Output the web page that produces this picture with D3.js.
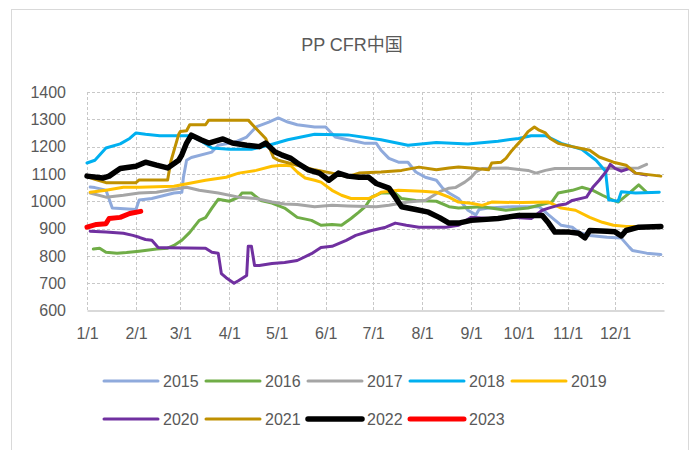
<!DOCTYPE html>
<html>
<head>
<meta charset="utf-8">
<script src="https://cdn.jsdelivr.net/npm/d3@7"></script>
<style>
  html, body { margin: 0; padding: 0; background: #fff; }
  svg { display: block; }
  text { font-family: "Liberation Sans", Arial, "Noto Sans CJK SC", sans-serif; fill: #595959; }
</style>
</head>
<body>
<svg id="chart" width="694" height="450"></svg>
<script>
const title = "PP CFR中国";
const monthTicks = ["1/1","2/1","3/1","4/1","5/1","6/1","7/1","8/1","9/1","10/1","11/1","12/1"];
const yTicks = [600,700,800,900,1000,1100,1200,1300,1400];
const seriesNames = ["2015","2016","2017","2018","2019","2020","2021","2022","2023"];
const seriesColors = ["#8faadc","#70ad47","#a5a5a5","#00b0f0","#ffc000","#7030a0","#bf9000","#000000","#ff0000"];
const seriesWidths = [3,3,3,3,3,3,3,5.5,5];

const s2015 = [["1/3",1052],["1/6",1050],["1/13",1040],["1/17",975],["2/1",970],["2/3",1005],["2/11",1010],["2/18",1020],["2/25",1030],["3/2",1033],["3/3",1088],["3/5",1150],["3/8",1160],["3/21",1180],["3/25",1205],["4/5",1217],["4/12",1235],["4/18",1272],["4/26",1290],["5/2",1305],["5/8",1290],["5/14",1280],["5/25",1272],["6/1",1272],["6/7",1235],["6/15",1225],["6/22",1217],["6/26",1212],["7/3",1212],["7/6",1187],["7/11",1157],["7/17",1143],["7/23",1143],["7/28",1107],["8/3",1088],["8/10",1077],["8/14",1048],["8/18",1030],["8/24",1010],["8/30",967],["9/4",950],["9/6",970],["9/12",975],["9/27",980],["10/14",980],["10/20",950],["10/28",912],["11/4",905],["11/8",887],["11/15",875],["11/26",868],["12/5",865],["12/10",832],["12/12",820],["12/21",810],["12/30",805]];
const s2016 = [["1/5",825],["1/9",828],["1/13",813],["1/20",810],["1/26",812],["2/3",817],["2/14",825],["2/21",828],["2/25",838],["3/2",857],["3/7",886],["3/13",930],["3/17",940],["3/21",975],["3/25",1007],["4/1",1000],["4/7",1015],["4/9",1030],["4/15",1030],["4/21",1003],["4/28",993],["5/6",975],["5/14",941],["5/23",930],["5/29",912],["6/5",915],["6/11",912],["6/17",937],["6/22",960],["6/26",980],["6/30",1015],["7/6",1030],["7/15",1030],["7/19",1010],["7/28",1003],["8/10",1000],["8/18",980],["8/24",975],["9/8",980],["9/23",967],["10/7",975],["10/22",997],["10/26",1030],["11/4",1040],["11/10",1051],["11/17",1040],["11/23",1022],["11/30",1003],["12/3",997],["12/10",1030],["12/16",1060],["12/21",1033]];
const s2017 = [["1/3",1030],["1/13",1015],["1/24",1022],["2/3",1030],["2/14",1033],["2/25",1044],["3/5",1051],["3/13",1040],["3/25",1030],["4/7",1015],["4/18",1010],["4/28",997],["5/6",990],["5/14",988],["5/25",980],["6/5",985],["6/15",983],["7/3",980],["7/11",985],["7/23",997],["8/3",1003],["8/12",1035],["8/18",1048],["8/22",1050],["8/28",1070],["9/1",1088],["9/4",1107],["9/8",1120],["9/23",1122],["10/7",1113],["10/12",1103],["10/18",1113],["10/24",1120],["11/15",1120],["12/16",1122],["12/21",1135]];
const s2018 = [["1/1",1140],["1/6",1150],["1/13",1195],["1/22",1210],["1/28",1230],["2/1",1250],["2/7",1245],["2/16",1240],["3/7",1240],["3/13",1225],["3/21",1195],["4/1",1190],["4/15",1190],["4/26",1205],["5/8",1225],["5/25",1245],["6/15",1243],["7/6",1225],["7/23",1205],["8/10",1215],["8/30",1210],["9/18",1220],["10/1",1230],["10/9",1240],["10/18",1240],["10/28",1212],["11/10",1190],["11/19",1150],["11/25",1110],["11/27",1005],["12/3",1000],["12/5",1035],["12/14",1030],["12/29",1033]];
const s2019 = [["1/3",1033],["1/13",1040],["1/24",1051],["2/3",1051],["2/25",1055],["3/7",1066],["3/17",1077],["3/30",1088],["4/7",1103],["4/18",1113],["4/28",1128],["5/4",1132],["5/10",1130],["5/14",1107],["5/19",1085],["5/25",1077],["5/29",1070],["6/5",1040],["6/11",1022],["6/17",1010],["6/28",1010],["7/3",1022],["7/6",1033],["7/17",1040],["8/1",1037],["8/10",1033],["8/18",1015],["8/24",997],["9/1",993],["9/8",985],["9/14",997],["10/3",995],["10/20",997],["10/28",975],["11/6",967],["11/15",941],["11/23",923],["11/30",912],["12/8",908],["12/18",908]];
const s2020 = [["1/3",890],["1/13",887],["1/24",883],["1/30",875],["2/3",868],["2/7",860],["2/11",857],["2/15",831],["2/21",830],["3/17",828],["3/21",813],["3/25",810],["3/27",735],["3/30",720],["4/4",700],["4/7",710],["4/12",728],["4/13",835],["4/15",835],["4/17",765],["4/20",765],["4/28",772],["5/6",776],["5/14",783],["5/23",808],["5/29",831],["6/5",835],["6/14",857],["6/20",875],["6/30",893],["7/9",905],["7/15",920],["7/22",912],["7/30",905],["8/16",905],["8/24",912],["9/1",941],["9/12",937],["9/27",941],["10/9",937],["10/16",967],["10/20",975],["10/26",985],["10/31",990],["11/4",1003],["11/13",1015],["11/17",1051],["11/21",1077],["11/26",1113],["11/28",1135],["12/1",1120],["12/5",1110],["12/10",1120],["12/14",1103],["12/21",1096]];
const s2021 = [["1/1",1090],["1/6",1080],["1/13",1068],["2/1",1068],["2/3",1078],["2/21",1078],["2/23",1145],["2/28",1245],["3/1",1255],["3/5",1258],["3/7",1280],["3/17",1280],["3/19",1297],["4/13",1297],["4/17",1272],["4/24",1230],["4/29",1160],["5/2",1150],["5/14",1132],["5/25",1115],["6/5",1103],["6/15",1090],["6/22",1103],["7/6",1107],["7/19",1113],["7/30",1125],["8/10",1115],["8/18",1122],["8/24",1125],["9/1",1122],["9/12",1115],["9/14",1140],["9/20",1143],["9/23",1157],["9/26",1180],["9/29",1200],["10/3",1225],["10/7",1255],["10/11",1272],["10/14",1260],["10/18",1250],["10/21",1230],["10/26",1212],["11/4",1200],["11/15",1187],["11/21",1162],["11/30",1143],["12/8",1132],["12/14",1103],["12/30",1092]];
const s2022 = [["1/1",1092],["1/11",1085],["1/15",1092],["1/22",1120],["2/1",1128],["2/7",1143],["2/14",1132],["2/21",1122],["2/28",1150],["3/2",1170],["3/5",1213],["3/8",1242],["3/14",1225],["3/19",1213],["3/28",1228],["4/3",1213],["4/12",1205],["4/20",1200],["4/24",1213],["4/30",1180],["5/4",1170],["5/10",1157],["5/14",1140],["5/21",1115],["5/28",1103],["6/3",1077],["6/9",1103],["6/15",1092],["6/22",1088],["6/28",1088],["7/3",1065],["7/11",1048],["7/15",1015],["7/19",980],["7/28",970],["8/5",960],["8/12",940],["8/18",920],["8/24",920],["9/1",930],["9/18",937],["10/1",948],["10/16",948],["10/20",920],["10/24",887],["11/2",887],["11/8",883],["11/12",866],["11/15",893],["11/26",890],["12/1",888],["12/5",873],["12/8",893],["12/16",905],["12/30",908]];
const s2023 = [["1/1",905],["1/7",915],["1/13",918],["1/15",937],["1/22",941],["1/28",955],["2/4",963]];
const allSeries = [s2015,s2016,s2017,s2018,s2019,s2020,s2021,s2022,s2023];

const parse = d3.timeParse("%m/%d");
const svg = d3.select("#chart");

// chart frame
svg.append("rect").attr("x", 11.5).attr("y", 9.5).attr("width", 677).attr("height", 460)
  .attr("fill", "#fff").attr("stroke", "#d9d9d9").attr("stroke-width", 1);

const x = d3.scaleTime().domain([parse("1/1"), d3.timeYear.offset(parse("1/1"), 1)]).range([87, 664]);
const y = d3.scaleLinear().domain([600, 1400]).range([310.5, 92]);

// horizontal gridlines
svg.append("g").selectAll("line").data(yTicks.filter(v => v > 600)).join("line")
  .attr("x1", 87).attr("x2", 664).attr("y1", d => Math.round(y(d)) + 0.5).attr("y2", d => Math.round(y(d)) + 0.5)
  .attr("stroke", "#c8c8c8").attr("stroke-dasharray", "3,2").attr("stroke-width", 1);
// vertical gridlines
svg.append("g").selectAll("line").data(monthTicks).join("line")
  .attr("x1", d => Math.round(x(parse(d))) + 0.5).attr("x2", d => Math.round(x(parse(d))) + 0.5)
  .attr("y1", 92).attr("y2", 311).attr("stroke", "#c8c8c8").attr("stroke-dasharray", "3,2").attr("stroke-width", 1);

// x axis
const xAxis = d3.axisBottom(x).tickValues(monthTicks.map(parse)).tickFormat(d3.timeFormat("%-m/%-d")).tickSize(0).tickPadding(17);
const gx = svg.append("g").attr("transform", `translate(0,${y(600)})`).call(xAxis);
gx.select(".domain").attr("stroke", "#d9d9d9").attr("stroke-width", 2);
gx.selectAll("text").attr("font-size", 16).attr("fill", "#595959").style("font-family", '"Liberation Sans", Arial, sans-serif');

// y axis
const yAxis = d3.axisLeft(y).tickValues(yTicks).tickFormat(d3.format("d")).tickSize(0).tickPadding(21);
const gy = svg.append("g").attr("transform", `translate(87,0)`).call(yAxis);
gy.select(".domain").remove();
gy.selectAll("text").attr("font-size", 16).attr("fill", "#595959").style("font-family", '"Liberation Sans", Arial, sans-serif');

// lines
const line = d3.line().x(d => x(parse(d[0]))).y(d => y(d[1]));
allSeries.forEach((s, i) => {
  svg.append("path").datum(s).attr("d", line).attr("fill", "none")
    .attr("stroke", seriesColors[i]).attr("stroke-width", seriesWidths[i])
    .attr("stroke-linejoin", "round").attr("stroke-linecap", "round");
});

// title
svg.append("text").attr("x", 352).attr("y", 51).attr("text-anchor", "middle")
  .attr("font-size", 18).text(title);

// legend
const legend = svg.append("g");
seriesNames.forEach((name, i) => {
  const row = i < 5 ? 0 : 1;
  const col = i < 5 ? i : i - 5;
  const lx = 104 + col * 102;
  const ly = row === 0 ? 381 : 419;
  legend.append("line").attr("x1", lx).attr("x2", lx + 54).attr("y1", ly).attr("y2", ly)
    .attr("stroke", seriesColors[i]).attr("stroke-width", seriesWidths[i]).attr("stroke-linecap", "round");
  legend.append("text").attr("x", lx + 59).attr("y", ly + 6).attr("font-size", 16).text(name);
});
</script>
</body>
</html>
